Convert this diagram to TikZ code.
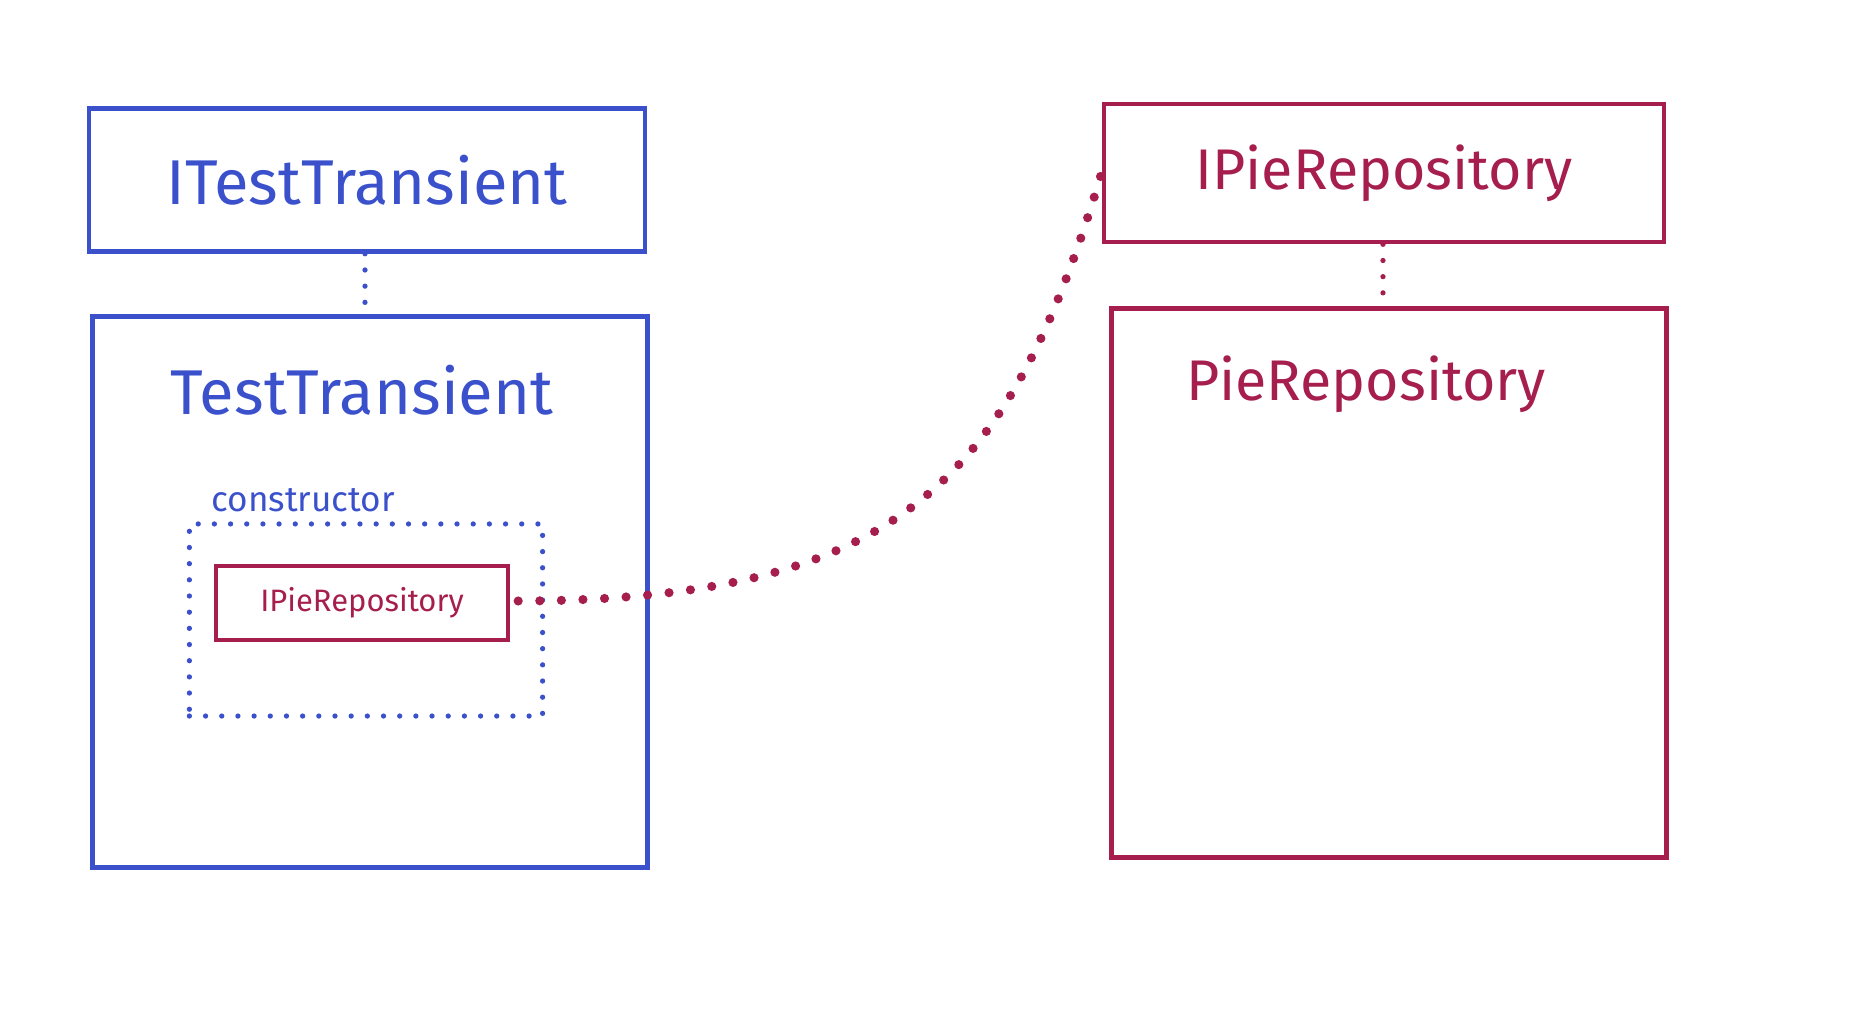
\documentclass[tikz,border=0pt]{standalone}
\usepackage{fontspec}
\setmainfont{Fira Sans}
\usetikzlibrary{positioning}
\definecolor{dibblue}{HTML}{3B51CC}
\definecolor{dibred}{HTML}{A61E4D}

\begin{document}
\begin{tikzpicture}[x=0.01cm, y=-0.01cm,
    svcbox/.style={draw=#1, line width=1.3pt, text=#1, inner sep=0pt,
                   font=\fontsize{18}{20}\selectfont},
    smallbox/.style={draw=#1, line width=1.2pt, text=#1, inner sep=0pt,
                     font=\fontsize{8.8}{10}\selectfont},
    title/.style={text=#1, font=\fontsize{18}{20}\selectfont},
    dotline/.style={#1, line width=1.5pt, line cap=round, dash pattern=on 0pt off 4.6pt},
]
    \useasboundingbox (0,0) rectangle (1862,1022);

    % === left: ITestTransient / TestTransient ===
    \node[svcbox=dibblue, minimum width=5.56cm, minimum height=1.43cm]
        (itest) at (367,180) {ITestTransient};
    \node[draw=dibblue, line width=1.3pt, minimum width=5.55cm, minimum height=5.51cm]
        (test) at (370,592) {};
    \node[title=dibblue] (testtitle) at (362,390) {TestTransient};
    \draw[dotline=dibblue] (itest.south -| 365,0) -- (test.north -| 365,0);

    % constructor
    \node[draw=dibblue, dotline=dibblue, minimum width=3.53cm, minimum height=1.92cm]
        (ctor) at (366,620) {};
    \node[text=dibblue, font=\fontsize{10}{12}\selectfont, anchor=west] (ctorlbl) at (199,500) {constructor};
    \node[smallbox=dibred, minimum width=2.92cm, minimum height=0.74cm]
        (dep) at (362,603) {IPieRepository};

    % === right: IPieRepository / PieRepository ===
    \node[svcbox=dibred, font=\fontsize{16.3}{18}\selectfont, minimum width=5.6cm, minimum height=1.38cm]
        (ipie) at (1384,173) {IPieRepository};
    \node[draw=dibred, line width=1.3pt, minimum width=5.55cm, minimum height=5.49cm]
        (pie) at (1389,583) {};
    \node[title=dibred, font=\fontsize{16.3}{18}\selectfont] (pietitle) at (1366,384) {PieRepository};
    \draw[dotline=dibred] (ipie.south -| 1383,0) -- (pie.north -| 1383,0);

    % dependency link
    \draw[dotline=dibred, line width=2.6pt, dash pattern=on 0pt off 6.14pt]
        (dep.east) ++(8,-2) .. controls (900,600) and (1010,480) .. (ipie.west);
\end{tikzpicture}
\end{document}
